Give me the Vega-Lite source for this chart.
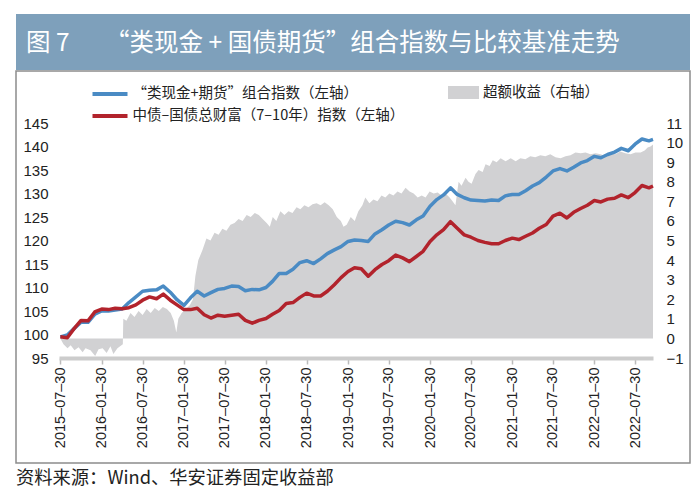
{
  "$schema": "https://vega.github.io/schema/vega-lite/v6.json",
  "padding": {"left": 15, "top": 14, "right": 11, "bottom": 0},
  "background": "white",
  "spacing": 0,
  "config": {
    "view": {"stroke": null},
    "font": "Liberation Sans, Noto Sans CJK SC",
    "axis": {"grid": false, "labelColor": "#222222", "labelFont": "Liberation Sans, Noto Sans CJK SC"},
    "legend": {"labelColor": "#222222", "labelFont": "Noto Sans CJK SC"}
  },
  "datasets": {
    "lines": [
      {"date": "2015-07-30", "blue": 99.5, "red": 99.5},
      {"date": "2015-08-30", "blue": 99.9, "red": 99.3},
      {"date": "2015-09-30", "blue": 101.3, "red": 101.3},
      {"date": "2015-10-30", "blue": 102.6, "red": 103.0},
      {"date": "2015-11-30", "blue": 102.6, "red": 102.9},
      {"date": "2015-12-30", "blue": 104.3, "red": 104.8},
      {"date": "2016-01-30", "blue": 105.0, "red": 105.4},
      {"date": "2016-02-29", "blue": 105.0, "red": 105.3},
      {"date": "2016-03-30", "blue": 105.2, "red": 105.6},
      {"date": "2016-04-30", "blue": 105.4, "red": 105.5},
      {"date": "2016-05-30", "blue": 106.8, "red": 105.7},
      {"date": "2016-06-30", "blue": 108.0, "red": 106.3},
      {"date": "2016-07-30", "blue": 109.2, "red": 107.3},
      {"date": "2016-08-30", "blue": 109.4, "red": 108.0},
      {"date": "2016-09-30", "blue": 109.5, "red": 107.6},
      {"date": "2016-10-30", "blue": 110.3, "red": 108.6},
      {"date": "2016-11-30", "blue": 109.0, "red": 107.3},
      {"date": "2016-12-30", "blue": 107.4, "red": 106.3},
      {"date": "2017-01-30", "blue": 106.2, "red": 105.3},
      {"date": "2017-02-28", "blue": 107.8, "red": 105.3},
      {"date": "2017-03-30", "blue": 109.2, "red": 105.6},
      {"date": "2017-04-30", "blue": 108.2, "red": 104.2},
      {"date": "2017-05-30", "blue": 108.9, "red": 103.5},
      {"date": "2017-06-30", "blue": 109.6, "red": 104.1},
      {"date": "2017-07-30", "blue": 109.8, "red": 103.9},
      {"date": "2017-08-30", "blue": 110.3, "red": 104.1},
      {"date": "2017-09-30", "blue": 110.2, "red": 104.3},
      {"date": "2017-10-30", "blue": 109.3, "red": 103.0},
      {"date": "2017-11-30", "blue": 109.6, "red": 102.4},
      {"date": "2017-12-30", "blue": 109.5, "red": 103.0},
      {"date": "2018-01-30", "blue": 110.0, "red": 103.4},
      {"date": "2018-02-28", "blue": 111.3, "red": 104.3},
      {"date": "2018-03-30", "blue": 113.0, "red": 105.1},
      {"date": "2018-04-30", "blue": 113.0, "red": 106.6},
      {"date": "2018-05-30", "blue": 113.9, "red": 106.8},
      {"date": "2018-06-30", "blue": 115.3, "red": 107.9},
      {"date": "2018-07-30", "blue": 115.7, "red": 108.8},
      {"date": "2018-08-30", "blue": 115.1, "red": 108.2},
      {"date": "2018-09-30", "blue": 116.1, "red": 108.2},
      {"date": "2018-10-30", "blue": 117.2, "red": 109.2},
      {"date": "2018-11-30", "blue": 118.0, "red": 110.6},
      {"date": "2018-12-30", "blue": 118.7, "red": 112.1},
      {"date": "2019-01-30", "blue": 119.8, "red": 113.4},
      {"date": "2019-02-28", "blue": 120.1, "red": 114.2},
      {"date": "2019-03-30", "blue": 120.0, "red": 114.0},
      {"date": "2019-04-30", "blue": 119.8, "red": 112.4},
      {"date": "2019-05-30", "blue": 121.4, "red": 113.8},
      {"date": "2019-06-30", "blue": 122.3, "red": 114.9},
      {"date": "2019-07-30", "blue": 123.3, "red": 115.7},
      {"date": "2019-08-30", "blue": 124.1, "red": 116.9},
      {"date": "2019-09-30", "blue": 123.8, "red": 116.3},
      {"date": "2019-10-30", "blue": 123.3, "red": 115.5},
      {"date": "2019-11-30", "blue": 124.4, "red": 116.6},
      {"date": "2019-12-30", "blue": 125.2, "red": 117.7},
      {"date": "2020-01-30", "blue": 127.3, "red": 119.8},
      {"date": "2020-02-29", "blue": 128.7, "red": 121.2},
      {"date": "2020-03-30", "blue": 129.7, "red": 122.3},
      {"date": "2020-04-30", "blue": 131.2, "red": 124.0},
      {"date": "2020-05-30", "blue": 129.8, "red": 122.6},
      {"date": "2020-06-30", "blue": 129.1, "red": 121.2},
      {"date": "2020-07-30", "blue": 128.6, "red": 120.7},
      {"date": "2020-08-30", "blue": 128.5, "red": 120.0},
      {"date": "2020-09-30", "blue": 128.4, "red": 119.6},
      {"date": "2020-10-30", "blue": 128.6, "red": 119.3},
      {"date": "2020-11-30", "blue": 128.5, "red": 119.3},
      {"date": "2020-12-30", "blue": 129.5, "red": 120.0},
      {"date": "2021-01-30", "blue": 129.8, "red": 120.5},
      {"date": "2021-02-28", "blue": 129.8, "red": 120.2},
      {"date": "2021-03-30", "blue": 130.6, "red": 120.9},
      {"date": "2021-04-30", "blue": 131.6, "red": 121.6},
      {"date": "2021-05-30", "blue": 132.3, "red": 122.6},
      {"date": "2021-06-30", "blue": 133.5, "red": 123.4},
      {"date": "2021-07-30", "blue": 134.8, "red": 125.2},
      {"date": "2021-08-30", "blue": 135.3, "red": 125.8},
      {"date": "2021-09-30", "blue": 134.8, "red": 124.8},
      {"date": "2021-10-30", "blue": 135.6, "red": 126.0},
      {"date": "2021-11-30", "blue": 136.5, "red": 126.8},
      {"date": "2021-12-30", "blue": 137.0, "red": 127.5},
      {"date": "2022-01-30", "blue": 137.9, "red": 128.5},
      {"date": "2022-02-28", "blue": 137.6, "red": 128.2},
      {"date": "2022-03-30", "blue": 138.3, "red": 128.8},
      {"date": "2022-04-30", "blue": 138.8, "red": 129.0},
      {"date": "2022-05-30", "blue": 139.6, "red": 129.7},
      {"date": "2022-06-30", "blue": 139.1, "red": 129.1},
      {"date": "2022-07-30", "blue": 140.5, "red": 130.2},
      {"date": "2022-08-30", "blue": 141.6, "red": 131.7},
      {"date": "2022-09-30", "blue": 141.2, "red": 131.2},
      {"date": "2022-10-18", "blue": 141.5, "red": 131.6}
    ],
    "excess": [
      {"date": "2015-07-30", "excess": 0},
      {"date": "2015-08-13", "excess": -0.3},
      {"date": "2015-08-31", "excess": -0.5},
      {"date": "2015-09-14", "excess": -0.35},
      {"date": "2015-10-01", "excess": -0.6},
      {"date": "2015-10-19", "excess": -0.45},
      {"date": "2015-11-06", "excess": -0.7},
      {"date": "2015-11-19", "excess": -0.5},
      {"date": "2015-12-11", "excess": -0.6},
      {"date": "2016-01-01", "excess": -0.9},
      {"date": "2016-01-16", "excess": -0.55},
      {"date": "2016-02-03", "excess": -0.5},
      {"date": "2016-02-21", "excess": -0.75},
      {"date": "2016-03-09", "excess": -0.4},
      {"date": "2016-03-22", "excess": -0.8},
      {"date": "2016-04-09", "excess": -0.5},
      {"date": "2016-04-27", "excess": -0.35},
      {"date": "2016-05-03", "excess": -0.3},
      {"date": "2016-05-05", "excess": 1.0},
      {"date": "2016-05-19", "excess": 0.9},
      {"date": "2016-06-06", "excess": 1.3},
      {"date": "2016-06-24", "excess": 1.1},
      {"date": "2016-07-12", "excess": 1.4},
      {"date": "2016-07-30", "excess": 1.2},
      {"date": "2016-08-17", "excess": 1.5},
      {"date": "2016-09-04", "excess": 1.3},
      {"date": "2016-09-22", "excess": 1.55},
      {"date": "2016-10-10", "excess": 1.4},
      {"date": "2016-10-28", "excess": 1.6},
      {"date": "2016-11-15", "excess": 1.5},
      {"date": "2016-12-02", "excess": 1.3},
      {"date": "2016-12-16", "excess": 0.9},
      {"date": "2016-12-27", "excess": 0.3},
      {"date": "2017-01-05", "excess": 1.0},
      {"date": "2017-01-20", "excess": 1.3},
      {"date": "2017-02-07", "excess": 1.5},
      {"date": "2017-02-25", "excess": 1.7},
      {"date": "2017-03-11", "excess": 2.0},
      {"date": "2017-03-22", "excess": 3.2},
      {"date": "2017-04-04", "excess": 4.0},
      {"date": "2017-04-22", "excess": 4.5},
      {"date": "2017-05-10", "excess": 5.1},
      {"date": "2017-05-28", "excess": 5.0},
      {"date": "2017-06-15", "excess": 5.4},
      {"date": "2017-07-03", "excess": 5.3},
      {"date": "2017-07-20", "excess": 5.6},
      {"date": "2017-08-07", "excess": 5.5},
      {"date": "2017-08-25", "excess": 5.8},
      {"date": "2017-09-12", "excess": 5.9},
      {"date": "2017-09-30", "excess": 6.1},
      {"date": "2017-10-18", "excess": 6.0},
      {"date": "2017-11-05", "excess": 6.3},
      {"date": "2017-11-23", "excess": 6.2},
      {"date": "2017-12-11", "excess": 6.4},
      {"date": "2017-12-29", "excess": 6.3},
      {"date": "2018-01-15", "excess": 6.1},
      {"date": "2018-02-02", "excess": 5.9},
      {"date": "2018-02-16", "excess": 5.7},
      {"date": "2018-03-01", "excess": 6.2},
      {"date": "2018-03-17", "excess": 6.0},
      {"date": "2018-04-04", "excess": 6.5},
      {"date": "2018-04-22", "excess": 6.3},
      {"date": "2018-05-10", "excess": 6.5},
      {"date": "2018-05-28", "excess": 6.4},
      {"date": "2018-06-15", "excess": 6.7},
      {"date": "2018-07-02", "excess": 6.6},
      {"date": "2018-07-20", "excess": 6.8},
      {"date": "2018-08-07", "excess": 6.7},
      {"date": "2018-08-25", "excess": 6.85},
      {"date": "2018-09-12", "excess": 6.9},
      {"date": "2018-09-30", "excess": 6.8},
      {"date": "2018-10-18", "excess": 6.95},
      {"date": "2018-11-05", "excess": 6.8},
      {"date": "2018-11-23", "excess": 6.6},
      {"date": "2018-12-11", "excess": 6.2},
      {"date": "2018-12-29", "excess": 6.0},
      {"date": "2019-01-10", "excess": 5.7},
      {"date": "2019-01-24", "excess": 5.8},
      {"date": "2019-02-11", "excess": 6.2},
      {"date": "2019-03-01", "excess": 6.0},
      {"date": "2019-03-17", "excess": 6.5},
      {"date": "2019-04-04", "excess": 6.8},
      {"date": "2019-04-17", "excess": 7.2},
      {"date": "2019-05-05", "excess": 6.9},
      {"date": "2019-05-23", "excess": 7.1},
      {"date": "2019-06-10", "excess": 7.0},
      {"date": "2019-06-28", "excess": 7.3},
      {"date": "2019-07-15", "excess": 7.2},
      {"date": "2019-08-02", "excess": 7.4},
      {"date": "2019-08-20", "excess": 7.3},
      {"date": "2019-09-07", "excess": 7.5},
      {"date": "2019-09-25", "excess": 7.4},
      {"date": "2019-10-13", "excess": 7.7},
      {"date": "2019-10-31", "excess": 7.5},
      {"date": "2019-11-18", "excess": 7.4},
      {"date": "2019-12-06", "excess": 7.2},
      {"date": "2019-12-24", "excess": 7.3},
      {"date": "2020-01-10", "excess": 7.2},
      {"date": "2020-01-28", "excess": 7.5},
      {"date": "2020-02-15", "excess": 7.4},
      {"date": "2020-03-04", "excess": 7.45},
      {"date": "2020-03-21", "excess": 7.3},
      {"date": "2020-04-08", "excess": 7.4},
      {"date": "2020-04-26", "excess": 7.2},
      {"date": "2020-05-09", "excess": 7.0},
      {"date": "2020-05-22", "excess": 6.8},
      {"date": "2020-06-05", "excess": 8.0},
      {"date": "2020-06-18", "excess": 7.8},
      {"date": "2020-07-06", "excess": 8.2},
      {"date": "2020-07-19", "excess": 8.0},
      {"date": "2020-08-02", "excess": 7.9},
      {"date": "2020-08-19", "excess": 8.4},
      {"date": "2020-09-02", "excess": 8.6},
      {"date": "2020-09-20", "excess": 8.5},
      {"date": "2020-10-03", "excess": 8.9},
      {"date": "2020-10-21", "excess": 8.8},
      {"date": "2020-11-04", "excess": 9.1},
      {"date": "2020-11-21", "excess": 9.0},
      {"date": "2020-12-09", "excess": 9.2},
      {"date": "2020-12-31", "excess": 9.05},
      {"date": "2021-01-23", "excess": 9.2},
      {"date": "2021-02-14", "excess": 9.05},
      {"date": "2021-03-07", "excess": 9.2},
      {"date": "2021-03-29", "excess": 9.15},
      {"date": "2021-04-20", "excess": 9.3},
      {"date": "2021-05-12", "excess": 9.25},
      {"date": "2021-06-04", "excess": 9.35},
      {"date": "2021-06-26", "excess": 9.3},
      {"date": "2021-07-18", "excess": 9.4},
      {"date": "2021-08-10", "excess": 9.25},
      {"date": "2021-09-02", "excess": 9.2},
      {"date": "2021-09-24", "excess": 9.3},
      {"date": "2021-10-16", "excess": 9.35},
      {"date": "2021-11-07", "excess": 9.5},
      {"date": "2021-11-30", "excess": 9.45},
      {"date": "2021-12-22", "excess": 9.5},
      {"date": "2022-01-13", "excess": 9.4},
      {"date": "2022-02-05", "excess": 9.45},
      {"date": "2022-02-27", "excess": 9.4},
      {"date": "2022-03-21", "excess": 9.3},
      {"date": "2022-04-12", "excess": 9.5},
      {"date": "2022-05-04", "excess": 9.4},
      {"date": "2022-05-26", "excess": 9.55},
      {"date": "2022-06-17", "excess": 9.45},
      {"date": "2022-07-10", "excess": 9.4},
      {"date": "2022-08-01", "excess": 9.5},
      {"date": "2022-08-24", "excess": 9.5},
      {"date": "2022-09-11", "excess": 9.6},
      {"date": "2022-09-24", "excess": 9.75},
      {"date": "2022-10-07", "excess": 9.8},
      {"date": "2022-10-18", "excess": 9.9}
    ]
  },
  "vconcat": [
    {
      "width": 674,
      "height": 56,
      "view": {"fill": "#7ea0bb", "stroke": null},
      "data": {"values": [{"t": "图 7\u3000\u00a0\u00a0“类现金 + 国债期货”组合指数与比较基准走势"}]},
      "mark": {"type": "text", "align": "left", "baseline": "middle", "color": "white", "fontSize": 24.5, "font": "Noto Sans CJK SC"},
      "encoding": {"text": {"field": "t"}, "x": {"value": 10}, "y": {"value": 30}}
    },
    {
      "width": 674,
      "height": 392,
      "view": {"stroke": "#8c8c8c", "strokeWidth": 1.5},
      "title": {"text": "资料来源：Wind、华安证券固定收益部", "orient": "bottom", "anchor": "start", "frame": "group", "fontSize": 18.3, "fontWeight": "normal", "color": "#222222", "font": "Noto Sans CJK SC", "offset": 7},
      "layer": [
        {
          "data": {"name": "excess"},
          "mark": {"type": "area", "interpolate": "linear"},
          "encoding": {
            "x": {
              "field": "date", "type": "temporal",
              "scale": {"domain": [{"year": 2015, "month": 7, "date": 24, "utc": true}, {"year": 2022, "month": 10, "date": 18, "utc": true}], "range": [43, 637]},
              "axis": {
                "title": null, "offset": -105, "orient": "bottom",
                "values": [
                  {"year": 2015, "month": 7, "date": 30, "utc": true},
                  {"year": 2016, "month": 1, "date": 30, "utc": true},
                  {"year": 2016, "month": 7, "date": 30, "utc": true},
                  {"year": 2017, "month": 1, "date": 30, "utc": true},
                  {"year": 2017, "month": 7, "date": 30, "utc": true},
                  {"year": 2018, "month": 1, "date": 30, "utc": true},
                  {"year": 2018, "month": 7, "date": 30, "utc": true},
                  {"year": 2019, "month": 1, "date": 30, "utc": true},
                  {"year": 2019, "month": 7, "date": 30, "utc": true},
                  {"year": 2020, "month": 1, "date": 30, "utc": true},
                  {"year": 2020, "month": 7, "date": 30, "utc": true},
                  {"year": 2021, "month": 1, "date": 30, "utc": true},
                  {"year": 2021, "month": 7, "date": 30, "utc": true},
                  {"year": 2022, "month": 1, "date": 30, "utc": true},
                  {"year": 2022, "month": 7, "date": 30, "utc": true}
                ],
                "labelExpr": "utcFormat(datum.value, '%Y–%m–%d')",
                "labelAngle": 270, "labelFontSize": 14.5, "labelPadding": 3,
                "labelOverlap": false, "labelFlush": false,
                "domain": true, "domainColor": "#cccccc", "domainWidth": 4,
                "ticks": true, "tickColor": "#bbbbbb", "tickSize": 6, "tickWidth": 1.5
              }
            },
            "y": {
              "field": "excess", "type": "quantitative",
              "scale": {"domain": [-1, 11], "range": [287, 52], "nice": false, "zero": false},
              "axis": {"title": null, "orient": "right", "offset": -37, "values": [-1, 0, 1, 2, 3, 4, 5, 6, 7, 8, 9, 10, 11], "domain": false, "ticks": false, "labelPadding": 13, "labelFontSize": 15, "labelAlign": "left"}
            },
            "fill": {
              "datum": "超额收益（右轴）",
              "scale": {"range": ["#d1d1d3"]},
              "legend": {"title": null, "orient": "none", "legendX": 432, "legendY": 63, "symbolType": "M-1,-0.42H1V0.42H-1Z", "symbolSize": 961, "symbolStrokeWidth": 0, "labelFontSize": 14.5, "labelOffset": 4, "labelLimit": 300}
            }
          }
        },
        {
          "data": {"name": "lines"},
          "transform": [{"fold": ["blue", "red"], "as": ["series", "value"]}],
          "mark": {"type": "line", "strokeWidth": 3.5, "strokeJoin": "round"},
          "encoding": {
            "x": {"field": "date", "type": "temporal"},
            "y": {
              "field": "value", "type": "quantitative",
              "scale": {"domain": [95, 145], "range": [287, 52], "nice": false, "zero": false},
              "axis": {"title": null, "orient": "left", "offset": -43, "values": [95, 100, 105, 110, 115, 120, 125, 130, 135, 140, 145], "domain": false, "ticks": false, "labelPadding": 11, "labelFontSize": 15}
            },
            "stroke": {
              "field": "series", "type": "nominal",
              "scale": {"domain": ["blue", "red"], "range": ["#4a8bc4", "#b2232c"]},
              "legend": {
                "title": null, "orient": "none", "legendX": 85, "legendY": 71, "direction": "vertical",
                "symbolType": "M-2.5,0H2.5", "symbolSize": 196, "symbolStrokeWidth": 4,
                "labelFontSize": 14.5, "labelOffset": 13.5, "labelLimit": 400, "rowPadding": 5,
                "labelExpr": "datum.label == 'blue' ? '“类现金+期货”组合指数（左轴）' : '中债–国债总财富（7–10年）指数（左轴）'"
              }
            }
          }
        }
      ],
      "resolve": {"scale": {"y": "independent"}}
    }
  ]
}
